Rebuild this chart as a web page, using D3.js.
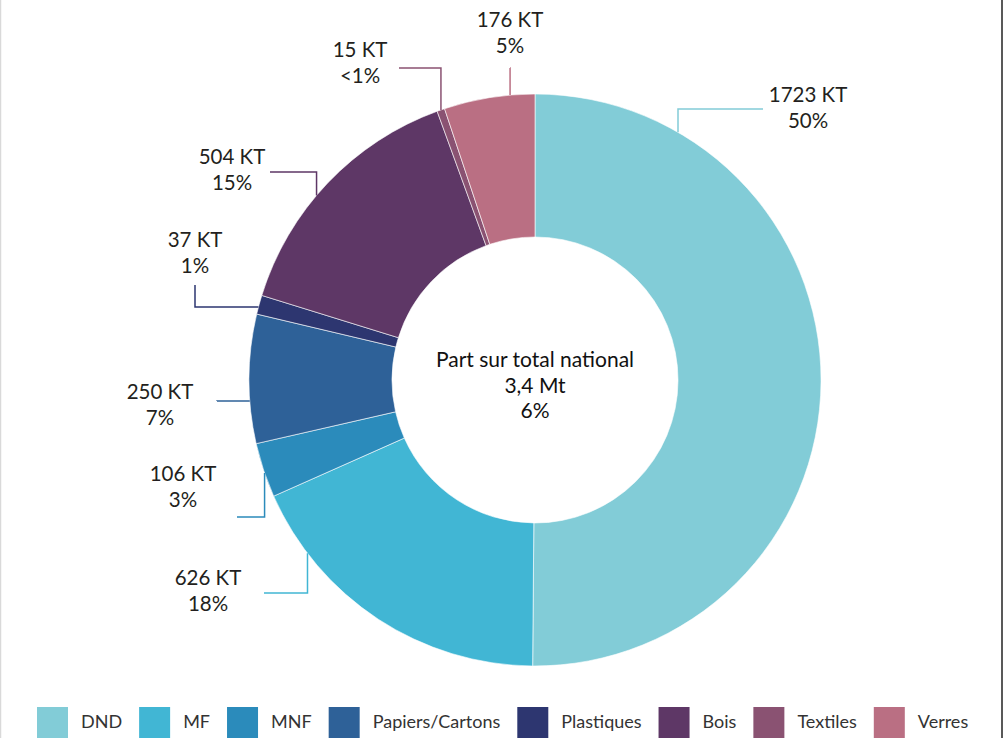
<!DOCTYPE html>
<html>
<head>
<meta charset="utf-8">
<script src="https://cdn.jsdelivr.net/npm/d3@7"></script>
<style>
  body { margin: 0; background: #fff; }
  svg { display: block; font-family: Lato, "Noto Sans", sans-serif; }
</style>
</head>
<body>
<svg width="1005" height="738"></svg>
<script>
// donnees
var categories = ['DND', 'MF', 'MNF', 'Papiers/Cartons', 'Plastiques', 'Bois', 'Textiles', 'Verres'];
var tonnages = [1723, 626, 106, 250, 37, 504, 15, 176];
var labelKT = ['1723 KT', '626 KT', '106 KT', '250 KT', '37 KT', '504 KT', '15 KT', '176 KT'];
var labelPct = ['50%', '18%', '3%', '7%', '1%', '15%', '<1%', '5%'];
var centerLines = ['Part sur total national', '3,4 Mt', '6%'];
var colors = ['#82ccd7', '#41b6d4', '#2b8bbb', '#2e6198', '#2d3670', '#5e3766', '#8a5272', '#ba6f83'];

// placement des etiquettes (angle d'accroche en degres, fin du trait, sens, texte)
var labelLayout = [
  {a: 30,    end: [763, 109], mode: 'v', tx: 808, ty: 95},
  {a: 232.7, end: [264, 593], mode: 'v', tx: 208, ty: 578},
  {a: 251,   end: [237, 517], mode: 'v', tx: 183, ty: 474},
  {a: 265.8, end: [217, 401], mode: 'h', tx: 160, ty: 392},
  {a: 284.8, end: [195, 285], mode: 'h', tx: 195, ty: 240},
  {a: 310.2, end: [270, 172], mode: 'v', tx: 232, ty: 157},
  {a: 340.8, end: [399, 68],  mode: 'v', tx: 360, ty: 50},
  {a: 355,   end: [510, 68],  mode: 'v', tx: 510, ty: 20}
];

var svg = d3.select('svg');
var cx = 535, cy = 380, outerR = 286, innerR = 143;

// bordures
svg.append('line').attr('x1', 0.5).attr('x2', 0.5).attr('y1', 0).attr('y2', 738)
  .attr('stroke', '#d9d9d9').attr('stroke-width', 1.5);
svg.append('line').attr('x1', 1002).attr('x2', 1002).attr('y1', 0).attr('y2', 738)
  .attr('stroke', '#222').attr('stroke-width', 1.5);

var pie = d3.pie().sort(null).value(d => d)(tonnages);
var arc = d3.arc().innerRadius(innerR).outerRadius(outerR);

var g = svg.append('g').attr('transform', 'translate(' + cx + ',' + cy + ')');
g.selectAll('path.slice')
  .data(pie)
  .enter().append('path')
  .attr('class', 'slice')
  .attr('d', arc)
  .attr('fill', (d, i) => colors[i])
  .attr('stroke', '#fff')
  .attr('stroke-width', 0.6);

// traits de rappel
labelLayout.forEach((l, i) => {
  var t = l.a * Math.PI / 180;
  var ax = cx + outerR * Math.sin(t), ay = cy - outerR * Math.cos(t);
  var pts = l.mode == 'v'
    ? [[ax, ay], [ax, l.end[1]], [l.end[0], l.end[1]]]
    : [[ax, ay], [l.end[0], ay], [l.end[0], l.end[1]]];
  svg.append('path')
    .attr('d', d3.line()(pts))
    .attr('fill', 'none')
    .attr('stroke', colors[i])
    .attr('stroke-width', 1.5);
  var txt = svg.append('text')
    .attr('text-anchor', 'middle')
    .attr('font-size', 20.5)
    .attr('fill', '#231f20');
  txt.append('tspan').attr('x', l.tx).attr('y', l.ty).attr('dy', '0.35em').text(labelKT[i]);
  txt.append('tspan').attr('x', l.tx).attr('y', l.ty + 26).attr('dy', '0.35em').text(labelPct[i]);
});

// texte central
centerLines.forEach((s, i) => {
  svg.append('text')
    .attr('x', cx).attr('y', 360 + i * 25.5)
    .attr('dy', '0.35em')
    .attr('text-anchor', 'middle')
    .attr('font-size', 21)
    .attr('fill', '#111')
    .text(s);
});

// legende
var legend = svg.append('g');
var lx = 37;
categories.forEach((c, i) => {
  legend.append('rect')
    .attr('x', lx).attr('y', 707)
    .attr('width', 31).attr('height', 31)
    .attr('fill', colors[i]);
  var t = legend.append('text')
    .attr('x', lx + 44).attr('y', 722)
    .attr('dy', '0.35em')
    .attr('font-size', 18)
    .attr('fill', '#333')
    .text(c);
  lx += 44 + t.node().getComputedTextLength() + 17;
});
</script>
</body>
</html>
